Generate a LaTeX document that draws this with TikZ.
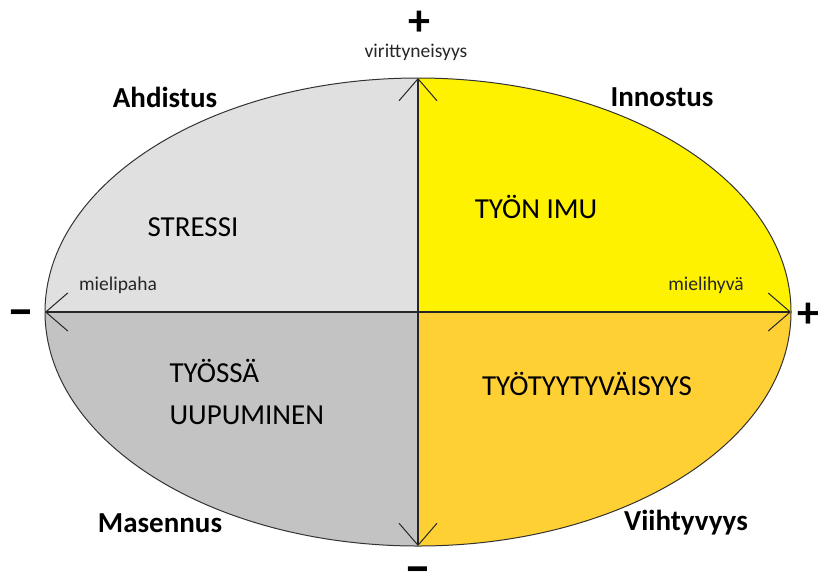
\documentclass[tikz,border=0pt]{standalone}
\usepackage{fontspec}
\setmainfont{Carlito}
\usetikzlibrary{arrows.meta}
\definecolor{qUL}{HTML}{E0E0E0}
\definecolor{qLL}{HTML}{C3C3C3}
\definecolor{qUR}{HTML}{FFF200}
\definecolor{qLR}{HTML}{FFD033}
\tikzset{
  big/.style={font=\fontsize{29}{35}\selectfont},
  corner/.style={font=\bfseries\fontsize{29}{34}\selectfont},
  small/.style={font=\fontsize{19.5}{23}\selectfont, text=black!85, inner sep=1pt},
  sign/.style={font=\bfseries\fontsize{44}{50}\selectfont, inner sep=0pt},
  minus/.style={font=\bfseries\fontsize{54}{60}\selectfont, inner sep=0pt},
  axis/.style={line width=1.3pt, black!85, {Straight Barb[length=22pt,width=38pt,line width=1pt]}-{Straight Barb[length=22pt,width=38pt,line width=1pt]}}
}
\begin{document}
\begin{tikzpicture}[x=1pt,y=-1pt]
\useasboundingbox (0,0) rectangle (818,574);
\coordinate (C) at (418,312);
\coordinate (T) at (418,78);
\coordinate (B) at (418,546);
\coordinate (L) at (45,312);
\coordinate (R) at (791,312);
\begin{scope}
  \clip (C) ellipse [x radius=373, y radius=234];
  \fill[qUL] (0,0) rectangle (C);
  \fill[qUR] (818,0) rectangle (C);
  \fill[qLL] (0,574) rectangle (C);
  \fill[qLR] (818,574) rectangle (C);
\end{scope}
\draw[line width=1pt, black!80] (C) ellipse [x radius=373, y radius=234];
\draw[axis] (L) -- (R);
\draw[axis] (T) -- (B);
\node[big] (stressi) at (193,227) {STRESSI};
\node[big] (imu) at (536,207) {TYÖN IMU};
\node[big, align=left, anchor=west, font=\fontsize{29}{42}\selectfont] (uup) at (166,392) {TYÖSSÄ\\UUPUMINEN};
\node[big] (tyyt) at (587,384) {TYÖTYYTYVÄISYYS};
\node[corner] (ahd) at (165,97) {Ahdistus};
\node[corner] (inn) at (662,97) {Innostus};
\node[corner] (mas) at (160,523) {Masennus};
\node[corner] (vii) at (686,523) {Viihtyvyys};
\node[small] (vir) at (416,52) {virittyneisyys};
\node[small] (paha) at (118,285) {mielipaha};
\node[small] (hyva) at (706,285) {mielihyvä};
\node[sign] (pt) at (419,23) {+};
\node[sign] (pr) at (808,315) {+};
\node[minus] (ml) at (21,308) {\smash{\raisebox{-19pt}{–}}};
\node[minus] (mb) at (418,565) {\smash{\raisebox{-19pt}{–}}};
\end{tikzpicture}
\end{document}
